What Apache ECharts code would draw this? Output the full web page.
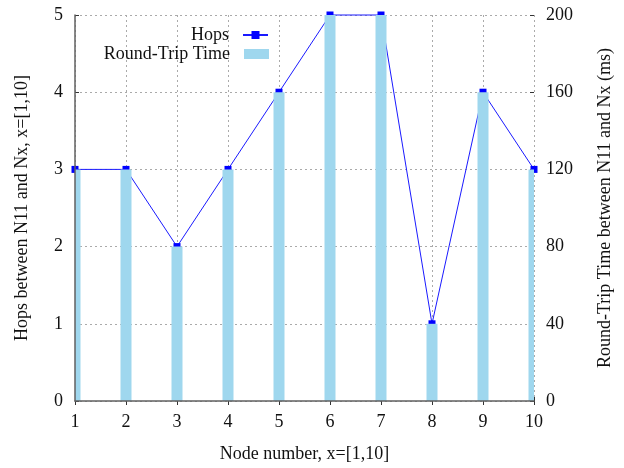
<!DOCTYPE html>
<html>
<head>
<meta charset="utf-8">
<script src="https://cdn.jsdelivr.net/npm/echarts@6/dist/echarts.min.js"></script>
<style>html,body{margin:0;padding:0;background:#fff}#c{width:624px;height:468px}</style>
</head>
<body>
<div id="c"></div>
<script>
const nodes = [1, 2, 3, 4, 5, 6, 7, 8, 9, 10];
const hops = [3, 3, 2, 3, 4, 5, 5, 1, 4, 3];
const rtt = [120, 120, 80, 120, 160, 200, 200, 40, 160, 120];
const hopsTicks = [0, 1, 2, 3, 4, 5];
const rttTicks = [0, 40, 80, 120, 160, 200];

const FONT = '"Liberation Serif", "DejaVu Serif", serif';
const FS = 18;
const txt = {fontFamily: FONT, fontSize: FS, color: '#111'};
const BAR_COLOR = '#9fd7ee';
const BAR_W = 11;
const AXIS_LINE = {show: true, lineStyle: {color: '#606060', width: 1.5}};
const chart = echarts.init(document.getElementById('c'), null, {renderer: 'canvas'});
chart.setOption({
  animation: false,
  backgroundColor: '#fff',
  grid: {left: 75, right: 90, top: 15, bottom: 65},
  legend: [
    {data: ['Hops'], right: 355, top: 26, align: 'right', orient: 'vertical', padding: 0,
     itemWidth: 25, itemHeight: 10,
     textStyle: Object.assign({padding: [0, 9, 0, 0]}, txt), selectedMode: false},
    {data: [{name: 'Round-Trip Time', icon: 'rect'}], right: 355, top: 45, align: 'right', orient: 'vertical', padding: 0,
     itemWidth: 25, itemHeight: 10,
     textStyle: Object.assign({padding: [0, 9, 0, 0]}, txt), selectedMode: false}
  ],
  xAxis: [{
    type: 'value', min: nodes[0], max: nodes[nodes.length - 1], interval: 1,
    name: 'Node number, x=[1,10]', nameLocation: 'middle', nameGap: 44,
    nameTextStyle: txt,
    axisLine: {show: false},
    axisTick: {show: true, inside: true, length: 4, lineStyle: {color: '#333'}},
    axisLabel: Object.assign({margin: 12}, txt),
    splitLine: {show: true, lineStyle: {color: '#aaa', type: [2, 3], width: 1}}
  }, {
    type: 'value', position: 'top', min: nodes[0], max: nodes[nodes.length - 1], interval: 1,
    axisLine: {show: false},
    axisTick: {show: true, inside: true, length: 4, lineStyle: {color: '#333'}},
    axisLabel: {show: false}, splitLine: {show: false}
  }, {
    type: 'value', position: 'bottom', min: nodes[0], max: nodes[nodes.length - 1], interval: 1,
    axisLine: AXIS_LINE, axisTick: {show: false}, axisLabel: {show: false}, splitLine: {show: false},
    z: 10
  }],
  yAxis: [{
    type: 'value', min: hopsTicks[0], max: hopsTicks[hopsTicks.length - 1], interval: 1,
    name: 'Hops between N11 and Nx, x=[1,10]', nameLocation: 'middle', nameGap: 44,
    nameTextStyle: txt,
    axisLine: {show: false},
    axisTick: {show: true, inside: true, length: 4, lineStyle: {color: '#333'}},
    axisLabel: Object.assign({margin: 12}, txt),
    splitLine: {show: true, lineStyle: {color: '#aaa', type: [2, 3], width: 1}}
  }, {
    type: 'value', position: 'right', min: rttTicks[0], max: rttTicks[rttTicks.length - 1], interval: 40,
    name: 'Round-Trip Time between N11 and Nx (ms)', nameLocation: 'middle', nameGap: 62,
    nameRotate: 90,
    nameTextStyle: txt,
    axisLine: {show: false},
    axisTick: {show: true, inside: true, length: 4, lineStyle: {color: '#333'}},
    axisLabel: Object.assign({margin: 12}, txt),
    splitLine: {show: false}
  }, {
    type: 'value', position: 'left', min: hopsTicks[0], max: hopsTicks[hopsTicks.length - 1], interval: 1,
    axisLine: AXIS_LINE, axisTick: {show: false}, axisLabel: {show: false}, splitLine: {show: false},
    z: 10
  }],
  series: [{
    name: 'Hops', type: 'line', xAxisIndex: 0, yAxisIndex: 0,
    data: nodes.map((n, i) => [n, hops[i]]),
    symbol: 'rect', symbolSize: 7, clip: false,
    lineStyle: {color: '#1a1aff', width: 1},
    itemStyle: {color: '#0000ff'},
    z: 2
  }, {
    name: 'Round-Trip Time', type: 'custom', xAxisIndex: 0, yAxisIndex: 1,
    data: nodes.map((n, i) => [n, rtt[i]]),
    encode: {x: 0, y: 1},
    itemStyle: {color: BAR_COLOR},
    renderItem: function (params, api) {
      const top = api.coord([api.value(0), api.value(1)]);
      const base = api.coord([api.value(0), 0]);
      const rect = {x: top[0] - BAR_W / 2, y: top[1], width: BAR_W, height: base[1] - top[1]};
      const cs = params.coordSys;
      const clipped = echarts.graphic.clipRectByRect(rect, {x: cs.x, y: cs.y, width: cs.width, height: cs.height});
      if (!clipped) return null;
      return {type: 'rect', shape: clipped, style: {fill: BAR_COLOR}};
    },
    z: 3
  }]
});
</script>
</body>
</html>
